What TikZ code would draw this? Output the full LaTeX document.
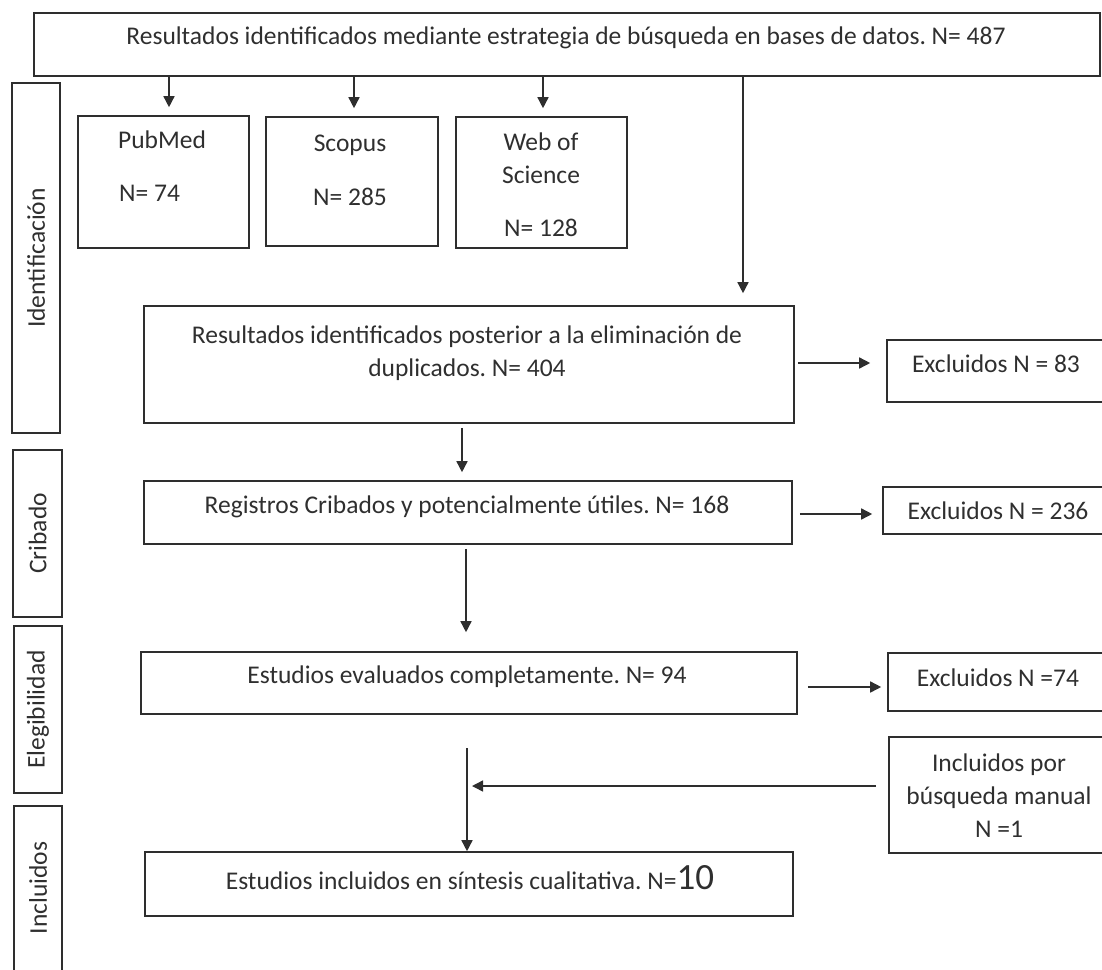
\documentclass[tikz,border=0pt]{standalone}
\usepackage{fontspec}
\setmainfont{Carlito}
\usetikzlibrary{arrows.meta,calc}
\definecolor{ink}{HTML}{2E2E2E}
\definecolor{txtc}{HTML}{2F2F2F}
\frenchspacing
\begin{document}
\begin{tikzpicture}[x=1pt,y=-1pt,
  box/.style={draw=ink, line width=1.6pt, inner sep=0pt, fill=none},
  txt/.style={text=txtc, inner sep=0pt, font=\fontsize{25.5}{33}\selectfont, align=center},
  arr/.style={draw=ink, line width=1.5pt, -{Triangle[length=11pt,width=11pt]}}
]
\path[use as bounding box] (0,0) rectangle (1102,969);
\clip (0,0) rectangle (1102,969);

% side boxes
\node[box, minimum width=48pt, minimum height=350pt] (sid) at (36,258) {};
\node[txt, rotate=90] at (sid.center) {Identificación};
\node[box, minimum width=49pt, minimum height=167pt] (sc) at (37.5,533.5) {};
\node[txt, rotate=90] at (sc.center) {Cribado};
\node[box, minimum width=48pt, minimum height=167pt] (se) at (38,709.5) {};
\node[txt, rotate=90] at (se.center) {Elegibilidad};
\node[box, minimum width=48pt, minimum height=170pt] (si) at (38,891) {};
\node[txt, rotate=90] at (38,888) {Incluidos};

% top box
\node[box, minimum width=1066pt, minimum height=63pt] (top) at (567,44.5) {};
\node[txt] at (566,38) {Resultados identificados mediante estrategia de búsqueda en bases de datos. N= 487};

% databases
\node[box, minimum width=171pt, minimum height=132pt] (pub) at (163.5,182) {};
\node[txt] at (162,140) {PubMed};
\node[txt, anchor=west] at (119,193) {N= 74};
\node[box, minimum width=172pt, minimum height=129pt] (sco) at (352,181.5) {};
\node[txt] at (350,145) {Scopus};
\node[txt] at (350,197) {N= 285};
\node[box, minimum width=171pt, minimum height=131pt] (wos) at (541.5,182.5) {};
\node[txt] at (541,142) {Web of};
\node[txt] at (541,175) {Science};
\node[txt] at (541,228) {N= 128};

\draw[arr] (169,0 |- top.south) -- ([yshift=8pt]169,0 |- pub.north);
\draw[arr] (354,0 |- top.south) -- ([yshift=8pt]354,0 |- sco.north);
\draw[arr] (543,0 |- top.south) -- ([yshift=8pt]543,0 |- wos.north);

% duplicates
\node[box, minimum width=650pt, minimum height=117pt] (dup) at (469,364.5) {};
\node[txt] at (467,353.5) {Resultados identificados posterior a la eliminación de\\duplicados. N= 404};
\draw[arr] (743,0 |- top.south) -- ([yshift=12pt]743,0 |- dup.north);

\node[box, minimum width=219pt, minimum height=62pt] (ex1) at (996.5,371) {};
\node[txt] at (996,364) {Excluidos N = 83};
\draw[arr] ([xshift=3pt]dup.east |- 0,363) -- ([xshift=-16pt]ex1.west |- 0,363);

% screening
\node[box, minimum width=648pt, minimum height=63pt] (reg) at (468,512.5) {};
\node[txt] at (467,507) {Registros Cribados y potencialmente útiles. N= 168};
\draw[arr] ([yshift=-4pt]462,0 |- dup.south) -- ([yshift=8pt]462,0 |- reg.north);

\node[box, minimum width=223pt, minimum height=47pt] (ex2) at (994.5,510.5) {};
\node[txt] at (998,511) {Excluidos N = 236};
\draw[arr] ([xshift=7pt]reg.east |- 0,514) -- ([xshift=-10pt]ex2.west |- 0,514);

% eligibility
\node[box, minimum width=656pt, minimum height=62pt] (eva) at (469,683) {};
\node[txt] at (467,677) {Estudios evaluados completamente. N= 94};
\draw[arr] ([yshift=-4pt]466,0 |- reg.south) -- ([yshift=19pt]466,0 |- eva.north);

\node[box, minimum width=218pt, minimum height=58pt] (ex3) at (997,682) {};
\node[txt] at (998,678) {Excluidos N =74};
\draw[arr] ([xshift=10pt]eva.east |- 0,687) -- ([xshift=-6pt]ex3.west |- 0,687);

% manual
\node[box, minimum width=217pt, minimum height=116pt] (man) at (997.5,795) {};
\node[txt] at (999,796) {Incluidos por\\búsqueda manual\\N =1};

% included
\node[box, minimum width=648pt, minimum height=64pt] (fin) at (469,884) {};
\node[txt] at (470,878) {Estudios incluidos en síntesis cualitativa. N={\fontsize{37}{37}\selectfont 10}};

\coordinate (j0) at (467,748);
\coordinate (j1) at (467,786);
\draw[arr] (j0) -- (j0 |- fin.north);
\draw[arr] ([xshift=-12pt]man.west |- j1) -- ([xshift=5pt]j1);
\end{tikzpicture}
\end{document}
